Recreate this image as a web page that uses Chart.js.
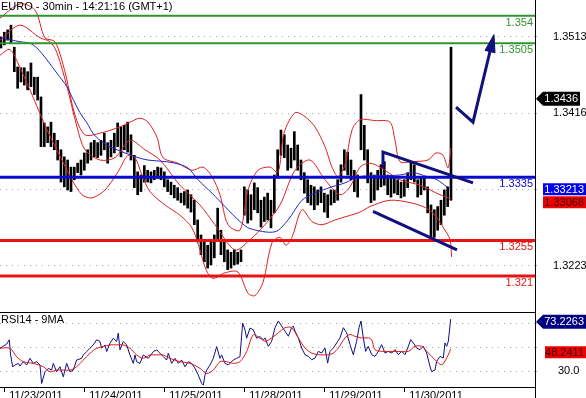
<!DOCTYPE html>
<html>
<head>
<meta charset="utf-8">
<script src="https://cdn.jsdelivr.net/npm/chart.js@4.4.1/dist/chart.umd.min.js"></script>
<style>
  html, body { margin: 0; padding: 0; background: #fff; overflow: hidden; }
  #wrap { position: relative; width: 586px; height: 398px; }
  #price { position: absolute; left: 0; top: 0; }
  #rsi { position: absolute; left: 0; top: 312px; }
</style>
</head>
<body>
<div id="wrap">
  <canvas id="price" width="586" height="312"></canvas>
  <canvas id="rsi" width="586" height="86"></canvas>
</div>
<script>
// ---- data (x = trading hours since 11/23/2011 00:00, weekend removed) ----
const titleText = 'EURO - 30min - 14:21:16 (GMT+1)';
const rsiTitle = 'RSI14 - 9MA';
const dayTicks = [0, 24, 48, 72, 96, 120];
const dayLabels = ['11/23/2011', '11/24/2011', '11/25/2011', '11/28/2011', '11/29/2011', '11/30/2011'];
const priceTicks = [1.3513, 1.34163, 1.33197, 1.3223];
const rsiTicks = [70, 50, 30];
const rsiLabelled = [30];

// hourly bars, first one at hour -1
const firstBarHour = -1;
const barHighs = [1.3513,1.3519,1.3522,1.3528,1.3500,1.3475,1.3474,1.3474,1.3469,1.3480,1.3462,1.3462,
  1.3437,1.3404,1.3399,1.3405,1.3391,1.3382,1.3370,1.3361,1.3357,1.3348,1.3348,1.3353,1.3357,
  1.3366,1.3370,1.3379,1.3382,1.3379,1.3382,1.3391,1.3379,1.3382,1.3391,1.3404,1.3399,1.3401,1.3405,
  1.3389,1.3363,1.3342,1.3338,1.3350,1.3344,1.3342,1.3344,1.3348,1.3347,
  1.3342,1.3332,1.3329,1.3325,1.3322,1.3315,1.3317,1.3319,1.3313,1.3306,1.3281,1.3262,1.3256,1.3249,
  1.3253,1.3262,1.3296,1.3268,1.3256,1.3243,1.3240,1.3243,1.3240,1.3243,
  1.3323,1.3319,1.3313,1.3328,1.3322,1.3306,1.3310,1.3315,1.3306,1.3338,1.3370,1.3395,1.3389,1.3376,
  1.3372,1.3393,1.3376,1.3357,1.3341,1.3332,1.3325,1.3323,1.3319,1.3323,
  1.3315,1.3313,1.3319,1.3319,1.3332,1.3351,1.3370,1.3367,1.3357,1.3344,1.3338,1.3440,1.3401,1.3370,
  1.3341,1.3338,1.3344,1.3351,1.3355,1.3338,1.3334,1.3334,1.3332,1.3329,
  1.3332,1.3341,1.3355,1.3351,1.3332,1.3334,1.3336,1.3323,1.3300,1.3294,1.3298,1.3306,1.3319,1.3323,1.3500];
const barLows = [1.3499,1.3503,1.3509,1.3505,1.3469,1.3448,1.3456,1.3452,1.3446,1.3450,1.3440,1.3433,
  1.3374,1.3374,1.3379,1.3374,1.3370,1.3357,1.3329,1.3323,1.3319,1.3317,1.3332,1.3341,1.3338,
  1.3344,1.3353,1.3357,1.3361,1.3360,1.3363,1.3370,1.3353,1.3361,1.3366,1.3374,1.3361,1.3370,1.3367,
  1.3357,1.3322,1.3313,1.3317,1.3329,1.3329,1.3328,1.3332,1.3334,1.3332,
  1.3323,1.3317,1.3313,1.3309,1.3306,1.3303,1.3300,1.3296,1.3291,1.3275,1.3253,1.3237,1.3228,1.3220,
  1.3224,1.3233,1.3256,1.3237,1.3228,1.3218,1.3220,1.3224,1.3225,1.3228,
  1.3287,1.3277,1.3281,1.3294,1.3290,1.3272,1.3279,1.3281,1.3271,1.3290,1.3334,1.3363,1.3360,1.3344,
  1.3347,1.3357,1.3344,1.3332,1.3315,1.3303,1.3300,1.3294,1.3300,1.3303,
  1.3291,1.3284,1.3300,1.3303,1.3306,1.3329,1.3344,1.3338,1.3332,1.3317,1.3310,1.3370,1.3357,1.3328,
  1.3303,1.3306,1.3319,1.3323,1.3325,1.3313,1.3310,1.3315,1.3313,1.3309,
  1.3311,1.3322,1.3332,1.3329,1.3310,1.3313,1.3319,1.3290,1.3259,1.3259,1.3268,1.3275,1.3287,1.3298,1.3306];

// moving average (blue) and Bollinger bands (red)
const maHours = [-1,4.7,7.7,9.8,12.8,15.8,18.8,20.3,22.7,24.8,26.6,28.7,31.7,36.2,40.1,43.1,48.2,51.2,55.1,58.1,
  62.3,66.2,70.7,73.7,81.2,85.1,89.3,93.2,98.3,102.2,106.7,112.7,118.7,122.6,126.8,129.8,132.8,134];
const maPrices = [1.3512,1.3507,1.3505,1.3499,1.3484,1.3467,1.3450,1.3437,1.3417,1.3404,1.3391,1.3382,1.3374,
  1.3366,1.3360,1.3357,1.3355,1.3353,1.3347,1.3332,1.3315,1.3298,1.3279,1.3270,1.3266,1.3281,1.3306,1.3315,
  1.3323,1.3328,1.3336,1.3337,1.3338,1.3341,1.3336,1.3332,1.3323,1.3321];
const bbUpHours = [-1.3,4.7,9.2,12.2,15.2,18.2,21.2,24.2,28.7,34.7,37.7,40.7,43.1,45.8,47.6,52.1,56.3,59.6,62.3,64.7,
  67.1,70.7,73.1,76.1,79.7,82.1,83.9,87.2,90.2,93.2,96.2,98.3,100.1,102.2,104.3,106.7,111.2,115.7,117.2,118.7,
  122.3,127.1,129.5,131.6,133.1,134];
const bbUpPrices = [1.3537,1.3555,1.3547,1.3512,1.3507,1.3469,1.3414,1.3389,1.3391,1.3399,1.3405,1.3410,1.3405,
  1.3386,1.3360,1.3353,1.3344,1.3348,1.3336,1.3313,1.3275,1.3268,1.3319,1.3344,1.3348,1.3341,1.3391,1.3417,
  1.3412,1.3399,1.3374,1.3348,1.3336,1.3351,1.3395,1.3408,1.3407,1.3405,1.3382,1.3355,1.3355,1.3357,1.3366,
  1.3363,1.3347,1.3372];
const bbMidHours = [-1.3,4.7,10.7,13.7,15.8,18.8,21.8,24.2,28.7,33.2,37.7,42.2,46.7,52.7,58.7,63.2,69.2,73.7,78.2,
  82.7,87.2,91.7,96.2,100.7,103.7,106.7,109.7,112.7,118.7,124.7,130.7,134];
const bbMidPrices = [1.3509,1.3528,1.3512,1.3507,1.3493,1.3450,1.3399,1.3370,1.3357,1.3360,1.3382,1.3370,1.3357,
  1.3325,1.3300,1.3275,1.3243,1.3256,1.3275,1.3300,1.3344,1.3357,1.3332,1.3313,1.3323,1.3348,1.3353,1.3348,
  1.3332,1.3325,1.3313,1.3308];
const bbLowHours = [-1.3,1.7,4.7,8.3,11.3,14.3,17.3,20.3,23.3,26.3,30.2,34.1,37.1,39.2,41.3,43.7,48.2,52.7,56.3,
  58.7,60.5,62.6,66.2,70.1,73.1,75.2,77.6,80.3,82.7,84.5,86.3,89.3,92.3,95.3,99.2,103.1,106.7,109.7,115.7,
  121.7,125.6,128.6,131.6,133.7,134.2];
const bbLowPrices = [1.3490,1.3497,1.3474,1.3440,1.3410,1.3382,1.3357,1.3332,1.3313,1.3309,1.3319,1.3342,1.3363,
  1.3360,1.3338,1.3317,1.3300,1.3287,1.3271,1.3243,1.3218,1.3207,1.3214,1.3215,1.3188,1.3185,1.3202,1.3252,
  1.3259,1.3249,1.3259,1.3294,1.3279,1.3275,1.3281,1.3286,1.3291,1.3298,1.3306,1.3303,1.3298,1.3290,1.3272,
  1.3256,1.3234];

// drawn levels and trend lines
const levelValues = [1.354, 1.3505, 1.3335, 1.3255, 1.321];
const levelLabels = ['1.354', '1.3505', '1.3335', '1.3255', '1.321'];
const channelTopHours = [113.6, 113.6, 140.6];
const channelTopPrices = [1.3347, 1.3367, 1.3328];
const channelBotHours = [110.6, 135.8];
const channelBotPrices = [1.3292, 1.3243];
const arrowHours = [135.5, 140.6, 146.0];
const arrowPrices = [1.3424, 1.3405, 1.3500];
const arrowHeadHours = [146.9, 144.2, 147.2, 146.9];
const arrowHeadPrices = [1.3516, 1.3496, 1.3493, 1.3516];
const priceTags = [1.3436, 1.33213, 1.33068];

// RSI panel
const rsiHours = [-1.3,-0.3,0.7,1.5,1.9,2.5,3.2,4.2,4.7,5.7,6.7,7.7,8.7,9.7,10.7,11.2,12.2,13.2,14.2,14.7,
  15.7,16.7,17.7,18.7,19.7,20.7,21.7,23.2,23.7,24.7,25.7,26.7,27.7,28.7,29.2,30.2,30.7,31.7,32.7,33.7,
  34.2,34.7,35.7,36.7,37.7,38.7,39.2,39.7,40.7,41.7,43.2,44.7,45.7,46.7,47.7,48.7,49.2,50.2,51.2,52.2,
  53.2,54.2,55.2,56.2,57.2,58.2,59.2,59.7,60.2,60.7,61.7,62.7,63.7,64.7,65.2,66.2,67.2,68.7,69.7,70.7,
  71.5,72.2,72.7,73.7,74.7,75.7,76.7,77.7,78.2,79.2,80.2,81.2,82.2,83.2,84.2,85.2,86.2,86.7,87.2,88.2,
  89.2,90.2,91.2,92.2,93.2,94.2,95.2,96.2,97.0,97.7,98.7,99.7,100.7,101.7,102.7,103.7,104.7,105.7,106.4,107.0,
  107.7,108.4,109.2,110.2,111.2,112.2,113.2,114.2,115.2,116.2,117.2,118.2,119.2,120.2,121.2,121.9,122.7,123.7,124.7,125.7,
  126.7,127.7,128.2,129.2,129.7,130.7,131.7,132.2,132.7,133.2,133.9];
const rsiValues = [49.0,50.7,52.4,56.0,43.4,33.6,35.0,36.4,34.2,37.8,35.0,40.6,36.4,37.8,35.0,19.6,29.4,32.2,30.8,36.4,
  29.4,33.6,25.2,36.4,29.4,30.8,39.2,40.6,43.4,46.2,49.0,51.8,56.0,54.6,49.0,51.8,46.2,53.2,57.4,54.6,
  61.6,47.6,54.6,51.8,43.4,36.4,43.4,37.8,36.4,43.4,40.6,46.2,47.6,44.8,42.0,39.2,44.8,36.4,40.6,36.4,
  39.2,33.6,37.8,36.4,32.2,26.6,19.6,18.3,26.6,30.8,35.0,40.6,50.4,40.6,43.4,36.4,35.0,39.2,40.6,42.0,
  70.0,64.4,57.4,65.8,64.4,57.4,58.8,56.0,57.6,50.6,54.8,66.1,71.7,67.5,63.3,59.0,66.1,67.5,63.3,57.6,
  49.2,43.6,42.2,39.4,40.8,46.4,45.0,49.2,36.6,46.4,49.2,53.4,57.6,66.1,61.9,52.0,43.6,54.8,66.1,71.7,
  57.6,46.4,50.6,43.6,42.2,46.4,52.0,45.0,46.4,45.0,47.8,43.6,46.4,43.6,50.6,56.2,53.4,49.2,47.8,50.6,
  45.0,33.8,29.5,30.9,38.0,42.2,40.8,53.4,50.6,54.8,73.2263];
const rsiMaHours = [-1.3,1.7,3.7,5.7,8.7,11.7,13.7,15.7,17.7,19.7,21.7,23.7,25.7,27.7,29.7,31.7,33.7,35.7,37.7,39.7,
  41.7,43.7,45.7,47.7,49.7,52.7,55.7,58.7,60.7,62.7,64.7,66.7,68.7,70.7,72.7,74.7,76.7,78.2,80.2,82.2,
  84.2,86.2,88.2,90.2,92.2,94.2,97.2,98.7,100.2,102.2,103.7,105.2,107.2,109.2,110.2,111.2,113.2,117.2,121.2,123.2,
  125.2,127.2,129.2,131.2,132.7,133.9];
const rsiMaValues = [49.0,49.0,42.0,37.8,36.4,33.6,29.4,30.8,30.8,30.8,33.6,39.2,44.8,49.0,50.4,51.8,51.8,51.8,49.0,43.4,
  40.6,43.4,43.4,43.4,40.6,37.8,36.4,32.2,28.0,30.8,37.8,37.8,36.4,37.8,46.2,60.2,57.4,54.8,57.6,61.9,
  66.1,66.1,57.6,49.2,45.0,43.6,43.6,45.0,49.2,57.6,60.4,59.0,57.6,57.6,56.2,47.8,46.4,46.4,46.4,50.6,
  50.6,45.0,39.4,35.2,40.8,48.2411];
const rsiTags = [73.2263, 48.2411];

// ---- drawing ----
const FONT = '"Liberation Sans", Arial, sans-serif';
const X_MIN = -1.29, X_MAX = 159.2;
const pairs = (xs, ys) => xs.map((x, i) => ({ x: x, y: ys[i] }));

function line(data, color, width, extra) {
  return Object.assign({ type: 'line', data: data, borderColor: color, backgroundColor: color,
    borderWidth: width, pointRadius: 0, fill: false, tension: 0 }, extra || {});
}

// fixed axis sizes, no label padding pushed into the plot area
function fixSize(w, h) {
  return s => {
    if (w !== null) s.width = w;
    if (h !== null) s.height = h;
    s.paddingTop = 0; s.paddingBottom = 0; s.paddingLeft = 0; s.paddingRight = 0;
  };
}

function drawTag(ctx, yc, text, bg, fg, x0, x1, arrow) {
  const h = 12;
  ctx.fillStyle = bg;
  ctx.beginPath();
  if (arrow) {
    ctx.moveTo(x0, yc);
    ctx.lineTo(x0 + 7, yc - h / 2 - 1);
    ctx.lineTo(x1, yc - h / 2 - 1);
    ctx.lineTo(x1, yc + h / 2 + 1);
    ctx.lineTo(x0 + 7, yc + h / 2 + 1);
  } else {
    ctx.rect(x0, yc - h / 2, x1 - x0, h);
  }
  ctx.closePath();
  ctx.fill();
  ctx.fillStyle = fg;
  ctx.textAlign = 'right';
  ctx.textBaseline = 'middle';
  ctx.fillText(text, x1 - 2, yc + 0.5);
}

const levelColors = ['#2f962f', '#2f962f', '#0a0acd', '#e81414', '#e81414'];
const levelWidths = [2, 2, 3, 3, 3];

const priceDecor = {
  id: 'priceDecor',
  afterDraw(chart) {
    const { ctx, chartArea: a, scales: { y } } = chart;
    ctx.save();
    ctx.font = '11px ' + FONT;
    ctx.textBaseline = 'middle';
    ctx.textAlign = 'left';
    ctx.fillStyle = '#000';
    ctx.fillText(titleText, 1, 7);
    levelValues.forEach((v, i) => {
      ctx.fillStyle = levelColors[i];
      ctx.textAlign = 'right';
      ctx.fillText(levelLabels[i], a.right - 2, y.getPixelForValue(v) + 7);
    });
    const y0 = y.getPixelForValue(priceTags[0]) + 1;
    drawTag(ctx, y0, String(priceTags[0]), '#000', '#fff', 536, 580, true);
    const y1 = y.getPixelForValue(priceTags[1]) + 1;
    drawTag(ctx, y1, String(priceTags[1]), '#0000ee', '#fff', 543, 586, false);
    drawTag(ctx, y1 + 13, String(priceTags[2]), '#ee0000', '#3a0000', 543, 586, false);
    ctx.restore();
  }
};

const rsiDecor = {
  id: 'rsiDecor',
  afterDraw(chart) {
    const { ctx, chartArea: a, scales: { y } } = chart;
    ctx.save();
    ctx.strokeStyle = '#000';
    ctx.lineWidth = 1;
    ctx.beginPath();
    ctx.moveTo(0, 0.5); ctx.lineTo(a.right + 1, 0.5);
    ctx.moveTo(a.right + 0.5, a.bottom); ctx.lineTo(a.right + 0.5, chart.height);
    ctx.stroke();
    ctx.font = '11px ' + FONT;
    ctx.fillStyle = '#000';
    ctx.textAlign = 'left';
    ctx.textBaseline = 'middle';
    ctx.fillText(rsiTitle, 1, 8);
    drawTag(ctx, y.getPixelForValue(rsiTags[0]) + 2.5, String(rsiTags[0]), '#000080', '#fff', 536, 586, true);
    drawTag(ctx, y.getPixelForValue(rsiTags[1]) + 3, String(rsiTags[1]), '#ee0000', '#3a0000', 545, 586, false);
    ctx.restore();
  }
};

const levelSets = levelValues.map((v, i) =>
  line([{ x: X_MIN, y: v }, { x: X_MAX, y: v }], levelColors[i], levelWidths[i]));

const bars = barHighs.map((hi, i) => ({ x: firstBarHour + i, y: [barLows[i], hi] }));

new Chart(document.getElementById('price'), {
  type: 'bar',
  data: {
    datasets: [
      line(pairs(arrowHeadHours, arrowHeadPrices), '#10107e', 1, { fill: 'shape' }),
      line(pairs(arrowHours, arrowPrices), '#10107e', 3),
      line(pairs(channelTopHours, channelTopPrices), '#10107e', 3),
      line(pairs(channelBotHours, channelBotPrices), '#10107e', 3),
      ...levelSets,
      line(pairs(maHours, maPrices), '#2424c8', 1, { tension: 0.3 }),
      line(pairs(bbUpHours, bbUpPrices), '#dd2020', 1, { tension: 0.3 }),
      line(pairs(bbMidHours, bbMidPrices), '#dd2020', 1, { tension: 0.3 }),
      line(pairs(bbLowHours, bbLowPrices), '#dd2020', 1, { tension: 0.3 }),
      { type: 'bar', data: bars, backgroundColor: '#000', borderWidth: 0, barThickness: 2 }
    ]
  },
  options: {
    responsive: false,
    animation: false,
    layout: { padding: 0, autoPadding: false },
    plugins: { legend: { display: false }, tooltip: { enabled: false } },
    scales: {
      x: { type: 'linear', min: X_MIN, max: X_MAX, offset: false, display: false },
      y: {
        position: 'right', min: 1.31643, max: 1.35599,
        afterBuildTicks: s => { s.ticks = priceTicks.map(v => ({ value: v })); },
        afterFit: fixSize(51, null),
        ticks: { callback: v => v.toFixed(4), color: '#000', font: { family: FONT, size: 11 },
          crossAlign: 'near', padding: 13 },
        grid: { color: '#a8a8a8', tickLength: 5, tickColor: '#a8a8a8', tickBorderDash: [1, 5] },
        border: { display: true, color: '#000', width: 1, dash: [1, 5] }
      }
    }
  },
  plugins: [priceDecor]
});

new Chart(document.getElementById('rsi'), {
  type: 'line',
  data: {
    datasets: [
      line(pairs(rsiMaHours, rsiMaValues), '#e01818', 1, { tension: 0.3 }),
      line(pairs(rsiHours, rsiValues), '#101080', 1)
    ]
  },
  options: {
    responsive: false,
    animation: false,
    layout: { padding: 0, autoPadding: false },
    plugins: { legend: { display: false }, tooltip: { enabled: false } },
    scales: {
      x: {
        type: 'linear', min: X_MIN, max: X_MAX, offset: false,
        afterBuildTicks: s => { s.ticks = dayTicks.map(v => ({ value: v })); },
        afterFit: fixSize(null, 11),
        ticks: { callback: (v, i) => dayLabels[i], align: 'start', labelOffset: 5, padding: -3,
          maxRotation: 0, autoSkip: false, color: '#000', font: { family: FONT, size: 11 } },
        grid: { drawOnChartArea: false, drawTicks: true, tickLength: 5, color: '#000', tickColor: '#000' },
        border: { display: true, color: '#000', width: 1 }
      },
      y: {
        position: 'right', min: 16.7, max: 79.2,
        afterBuildTicks: s => { s.ticks = rsiTicks.map(v => ({ value: v })); },
        afterFit: fixSize(51, null),
        ticks: { callback: v => rsiLabelled.includes(v) ? v.toFixed(1) : '', color: '#000',
          font: { family: FONT, size: 11 }, crossAlign: 'near', padding: 18 },
        grid: { color: '#a8a8a8', tickLength: 5, tickColor: '#a8a8a8', tickBorderDash: [1, 5] },
        border: { display: true, color: '#000', width: 1, dash: [1, 5] }
      }
    }
  },
  plugins: [rsiDecor]
});
</script>
</body>
</html>
